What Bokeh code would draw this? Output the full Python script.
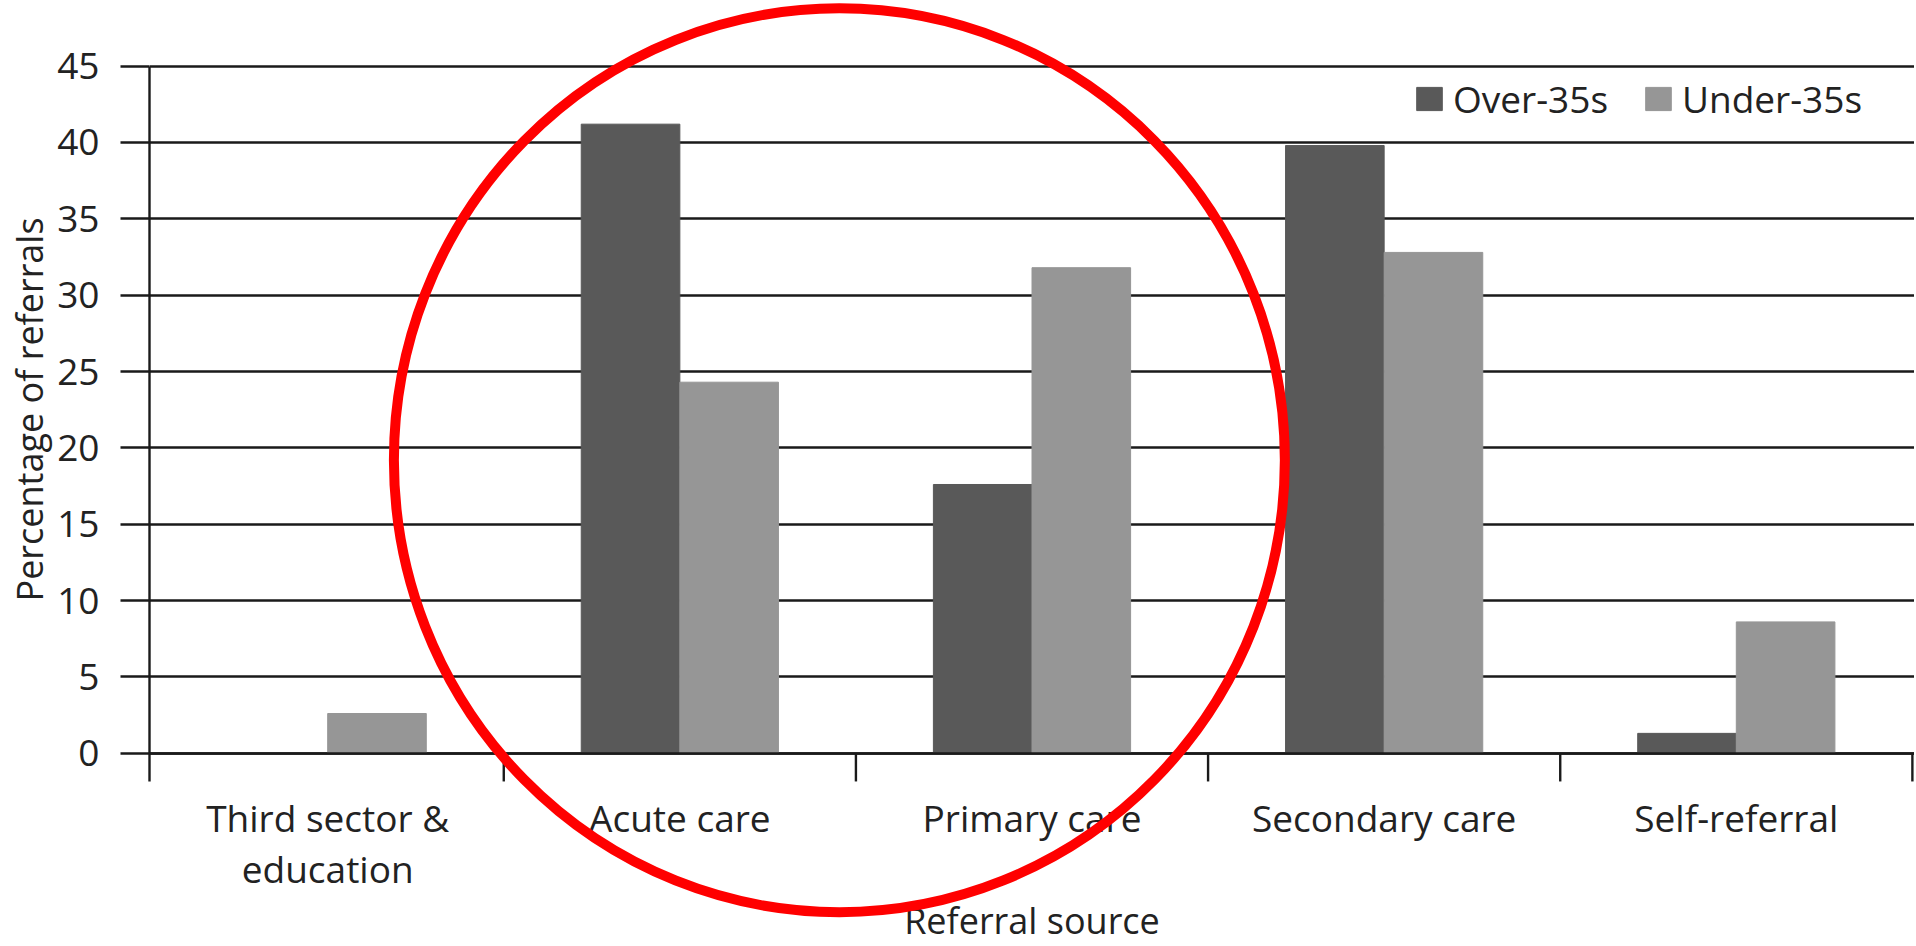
from bokeh.plotting import figure
from bokeh.models import (ColumnDataSource, FactorRange, FixedTicker, Legend,
                          LegendItem, Range1d, Title)
from bokeh.transform import dodge
from bokeh.embed import file_html
from bokeh.resources import INLINE

# ---------------- data ----------------
categories = ["Third sector &\neducation", "Acute care", "Primary care",
              "Secondary care", "Self-referral"]
over_35s = [0.0, 41.2, 17.6, 39.8, 1.3]
under_35s = [2.6, 24.3, 31.8, 32.8, 8.6]
series_names = ["Over-35s", "Under-35s"]
y_ticks = [0, 5, 10, 15, 20, 25, 30, 35, 40, 45]
x_title = "Referral source"
y_title = "Percentage of referrals"

# ---------------- styling ----------------
FONT = "Open Sans"
TXT = "#222222"
LINE = "#1a1a1a"
C_OVER = "#595959"
C_UNDER = "#969696"

W, H = 1914, 946
BORDER_LEFT = 149
Y_START, Y_END = -12.66, 49.30

# red highlight ellipse (annotation, in axis units)
RING_X, RING_Y, RING_W, RING_H = 1.953, 19.19, 2.53, 59.2

source = ColumnDataSource(dict(cat=categories, over=over_35s, under=under_35s))

p = figure(x_range=FactorRange(factors=categories, range_padding=0.006,
                               range_padding_units="absolute"),
           y_range=Range1d(Y_START, Y_END),
           width=W, height=H, output_backend="svg", toolbar_location=None,
           min_border_left=BORDER_LEFT, min_border_right=0,
           min_border_top=0, min_border_bottom=0)
p.outline_line_color = None
p.background_fill_color = "white"
p.border_fill_color = "white"

bar_w = 0.28
r_over = p.vbar(x=dodge("cat", -bar_w / 2, range=p.x_range), top="over", bottom=0,
                width=bar_w, source=source, fill_color=C_OVER, line_color=C_OVER)
r_under = p.vbar(x=dodge("cat", bar_w / 2, range=p.x_range), top="under", bottom=0,
                 width=bar_w, source=source, fill_color=C_UNDER, line_color=C_UNDER)

# grid
p.xgrid.grid_line_color = None
p.ygrid.ticker = FixedTicker(ticks=y_ticks)
p.ygrid.grid_line_color = LINE
p.ygrid.grid_line_width = 2.4

# y axis
ya = p.yaxis[0]
ya.ticker = FixedTicker(ticks=y_ticks)
ya.bounds = (-1.85, 45)
ya.axis_line_color = LINE
ya.axis_line_width = 2.4
ya.major_tick_line_color = LINE
ya.major_tick_line_width = 2.4
ya.major_tick_out = 29
ya.major_tick_in = 0
ya.minor_tick_line_color = None
ya.major_label_standoff = 21
ya.major_label_text_font = FONT
ya.major_label_text_font_size = "37px"
ya.major_label_text_color = TXT

# y axis title (left side, positioned along the axis)
p.add_layout(Title(text=y_title, align="left", offset=345, vertical_align="bottom",
                   standoff=2, text_font=FONT, text_font_size="36px",
                   text_font_style="normal", text_color=TXT), "left")

# x axis at y = 0
xa = p.xaxis[0]
xa.fixed_location = 0
xa.axis_line_color = LINE
xa.axis_line_width = 2.4
xa.major_tick_line_color = None
xa.major_tick_out = 29
xa.major_tick_in = 0
xa.major_label_standoff = 10
xa.major_label_text_font = FONT
xa.major_label_text_font_size = "37px"
xa.major_label_text_color = TXT
xa.major_label_text_line_height = 1.0
xa.axis_label = x_title
xa.axis_label_text_font = FONT
xa.axis_label_text_font_size = "36px"
xa.axis_label_text_font_style = "normal"
xa.axis_label_text_color = TXT
xa.axis_label_standoff = -2

# tick marks between categories
bounds = list(range(1, len(categories) + 1))
p.segment(x0=bounds, y0=[0] * len(bounds), x1=bounds, y1=[-1.85] * len(bounds),
          line_color=LINE, line_width=2.4)

# legend
legend = Legend(items=[LegendItem(label=series_names[0], renderers=[r_over]),
                       LegendItem(label=series_names[1], renderers=[r_under])],
                orientation="horizontal", location=(1264, 822),
                glyph_width=32, glyph_height=29, label_standoff=8, spacing=34,
                padding=0, margin=0, border_line_color=None,
                background_fill_alpha=0,
                label_text_font=FONT, label_text_font_size="37px",
                label_text_color=TXT)
p.add_layout(legend)

# red highlight ring
ring = p.ellipse(x=[RING_X], y=[RING_Y], width=[RING_W], height=[RING_H],
                 fill_color=None, line_color="#ff0000", line_width=10)
ring.level = "overlay"

open("out.html", "w").write(file_html(p, INLINE))
